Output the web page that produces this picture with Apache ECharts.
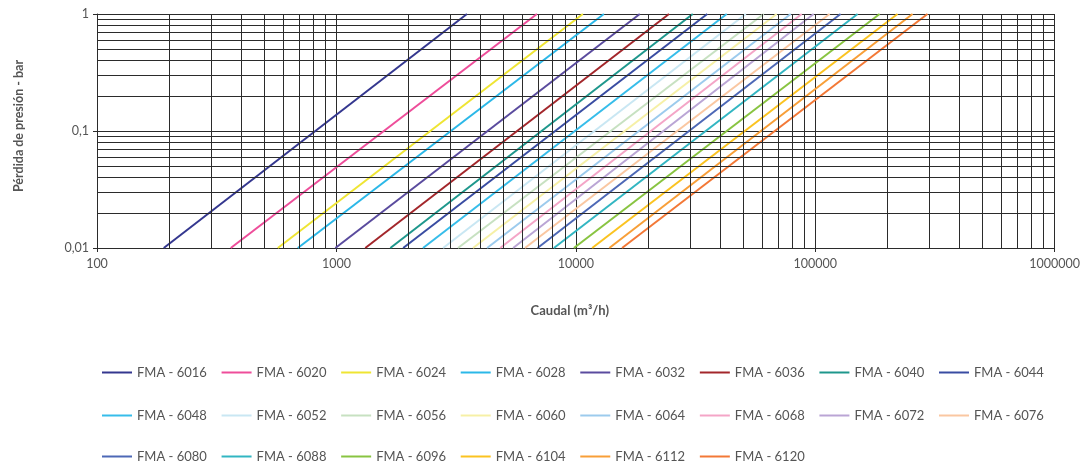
<!DOCTYPE html>
<html>
<head>
<meta charset="utf-8">
<script src="https://cdn.jsdelivr.net/npm/echarts@6/dist/echarts.min.js"></script>
<style>
html,body{margin:0;padding:0;background:#fff;}
#chart{width:1083px;height:465px;}
</style>
</head>
<body>
<div id="chart"></div>
<script>
// ---- data ----
const models = ['FMA - 6016','FMA - 6020','FMA - 6024','FMA - 6028','FMA - 6032','FMA - 6036','FMA - 6040','FMA - 6044',
  'FMA - 6048','FMA - 6052','FMA - 6056','FMA - 6060','FMA - 6064','FMA - 6068','FMA - 6072','FMA - 6076',
  'FMA - 6080','FMA - 6088','FMA - 6096','FMA - 6104','FMA - 6112','FMA - 6120'];
// flow (m3/h) where each curve reaches 0.01 bar and 1 bar
const flowAtLow = [190, 362, 569, 690, 990, 1320, 1680, 1900, 2300, 2790, 3220, 3720, 4260, 4830, 5470, 6130, 6920, 8100, 9820, 11700, 13800, 15600];
const flowAtHigh = [3510, 6880, 10700, 13100, 18500, 24500, 30800, 35400, 42700, 51300, 60900, 69000, 79000, 87800, 98500, 114800, 127600, 150300, 185700, 220700, 255000, 294400];
const pressureLow = 0.01;
const pressureHigh = 1;
const xTickLabels = ['100','1000','10000','100000','1000000'];
const yTickLabels = ['0,01','0,1','1'];

// ---- styles ----
const colors = ['#34378f','#ee4d9a','#efe533','#2bb8e8','#5a4b9e','#a3262b','#1e978c','#394ca2',
  '#36bdea','#c9e7f3','#c7e1c1','#f6f0a6','#9ccbed','#f4a5c7','#baa5d5','#fac7a1',
  '#4d68b6','#32b6c2','#88c441','#fbc320','#f89f38','#f37836'];
const FONT = 'Lato, "DejaVu Sans", sans-serif';

// grid line values (axis structure)
const xGrid = [], yGrid = [];
for (let d = 100; d < 1000000; d *= 10) for (let k = 2; k <= 9; k++) xGrid.push(k * d);
for (let d = 0.01; d < 0.99; d *= 10) for (let k = 2; k <= 9; k++) yGrid.push(+(k * d).toPrecision(3));

const series = [{
  type: 'line', data: [], z: 1, silent: true,
  markLine: {
    silent: true, symbol: 'none', animation: false,
    label: {show: false},
    lineStyle: {color: '#2b2b2b', width: 1, type: 'solid'},
    data: xGrid.map(v => ({xAxis: v})).concat(yGrid.map(v => ({yAxis: v})))
  }
}];
models.forEach((m, i) => {
  series.push({
    name: m, type: 'line', z: 3, symbol: 'none', showSymbol: false,
    lineStyle: {width: 2, color: colors[i]}, itemStyle: {color: colors[i]},
    data: [[flowAtLow[i], pressureLow], [flowAtHigh[i], pressureHigh]]
  });
});

const rowsTop = [366, 409, 450];
const legends = [0,1,2].map(r => ({
  data: models.slice(r*8, r*8+8),
  left: 102, top: rowsTop[r], orient: 'horizontal', padding: 0,
  icon: 'rect', itemWidth: 30, itemHeight: 2, itemGap: 14.7,
  selectedMode: false,
  textStyle: {fontFamily: FONT, fontSize: 13, color: '#555'}
}));

const chart = echarts.init(document.getElementById('chart'));
chart.setOption({
  animation: false,
  backgroundColor: '#fff',
  grid: {left: 97, right: 27, top: 14, bottom: 217, containLabel: false},
  legend: legends,
  xAxis: {
    type: 'log', logBase: 10, min: 100, max: 1000000,
    name: 'Caudal (m³/h)', nameLocation: 'middle', nameGap: 56,
    nameTextStyle: {fontFamily: FONT, fontSize: 13, fontWeight: 'bold', color: '#555', padding: [0, 12, 0, 0]},
    axisLine: {show: true, lineStyle: {color: '#2b2b2b', width: 1}},
    axisTick: {show: true, length: 4, lineStyle: {color: '#2b2b2b'}},
    axisLabel: {fontFamily: FONT, fontSize: 12.5, color: '#555', margin: 9,
      formatter: v => xTickLabels[Math.round(Math.log10(v)) - 2]},
    splitLine: {show: true, lineStyle: {color: '#2b2b2b', width: 1}}
  },
  yAxis: {
    type: 'log', logBase: 10, min: 0.01, max: 1,
    name: 'Pérdida de presión - bar', nameLocation: 'middle', nameGap: 72, nameRotate: 90,
    nameTextStyle: {fontFamily: FONT, fontSize: 12.5, fontWeight: 'bold', color: '#555', padding: [0, 0, 0, 10]},
    axisLine: {show: true, lineStyle: {color: '#2b2b2b', width: 1}},
    axisTick: {show: true, length: 4, lineStyle: {color: '#2b2b2b'}},
    axisLabel: {fontFamily: FONT, fontSize: 12.5, color: '#555', margin: 8,
      formatter: v => yTickLabels[Math.round(Math.log10(v)) + 2]},
    splitLine: {show: true, lineStyle: {color: '#2b2b2b', width: 1}}
  },
  series: series
});
</script>
</body>
</html>
